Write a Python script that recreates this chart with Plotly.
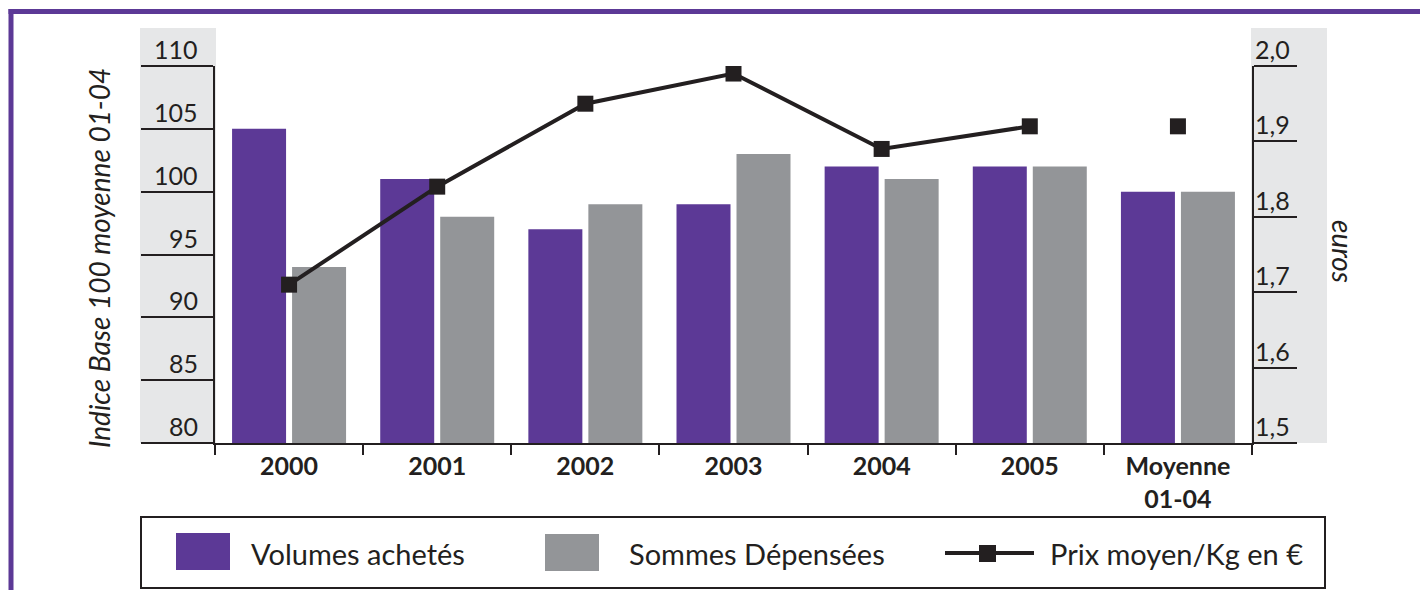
import plotly.graph_objects as go

# ---------------- data ----------------
categories = ["2000", "2001", "2002", "2003", "2004", "2005", "Moyenne<br>01-04"]
volumes = [105, 101, 97, 99, 102, 102, 100]
sommes = [94, 98, 99, 103, 101, 102, 100]
prix_years = [1.71, 1.84, 1.95, 1.99, 1.89, 1.92]
prix_moy = [1.92]
left_ticks = [80, 85, 90, 95, 100, 105, 110]
left_labels = ["80", "85", "90", "95", "100", "105", "110"]
right_ticks = [1.5, 1.6, 1.7, 1.8, 1.9, 2.0]
right_labels = ["1,5", "1,6", "1,7", "1,8", "1,9", "2,0"]

legend_names = ["Volumes achetés", "Sommes Dépensées", "Prix moyen/Kg en €"]
y_title = "Indice Base 100 moyenne 01-04"
y2_title = "euros"

# ---------------- style ----------------
PURPLE = "#5c3996"
GREY = "#939598"
BAND = "#e6e7e8"
INK = "#231f20"
FONT = "Lato"

OFF = 8                      # page body margin
W, H = 1428 - 2 * OFF, 598 - 2 * OFF
L, R, T, B = 215, 1252, 66, 443  # plot area in page px


def px(x):
    return (x - L) / (R - L)


def py(y):
    return (B - y) / (B - T)


fig = go.Figure()
fig.add_trace(go.Bar(x=categories, y=volumes, name=legend_names[0],
                     marker=dict(color=PURPLE, line=dict(width=0)), showlegend=False))
fig.add_trace(go.Bar(x=categories, y=sommes, name=legend_names[1],
                     marker=dict(color=GREY, line=dict(width=0)), showlegend=False))
fig.add_trace(go.Scatter(x=categories[:len(prix_years)], y=prix_years, yaxis="y2",
                         mode="lines+markers", name=legend_names[2],
                         line=dict(color=INK, width=4),
                         marker=dict(symbol="square", size=16, color=INK),
                         showlegend=False))
fig.add_trace(go.Scatter(x=categories[len(prix_years):], y=prix_moy, yaxis="y2",
                         mode="markers", name=legend_names[2],
                         marker=dict(symbol="square", size=16, color=INK),
                         showlegend=False))

shapes = []
# outer purple frame (top and left edges; the rest runs off the page)
shapes.append(dict(type="line", xref="paper", yref="paper",
                   x0=px(8.5), x1=px(W + OFF), y0=py(11.5), y1=py(11.5),
                   line=dict(color=PURPLE, width=5), layer="below"))
shapes.append(dict(type="line", xref="paper", yref="paper",
                   x0=px(11), x1=px(11), y0=py(9), y1=py(H + OFF),
                   line=dict(color=PURPLE, width=5), layer="below"))
# grey bands behind axis tick areas
shapes.append(dict(type="rect", xref="paper", yref="paper",
                   x0=px(140), x1=px(216), y0=py(443), y1=py(28),
                   line=dict(width=0), fillcolor=BAND, layer="below"))
shapes.append(dict(type="rect", xref="paper", yref="paper",
                   x0=px(1251), x1=px(1327), y0=py(443), y1=py(28),
                   line=dict(width=0), fillcolor=BAND, layer="below"))
# legend box
shapes.append(dict(type="rect", xref="paper", yref="paper",
                   x0=px(141), x1=px(1325), y0=py(588), y1=py(517),
                   line=dict(color=INK, width=2), fillcolor="white"))
shapes.append(dict(type="rect", xref="paper", yref="paper",
                   x0=px(176), x1=px(230), y0=py(570), y1=py(533),
                   line=dict(width=0), fillcolor=PURPLE))
shapes.append(dict(type="rect", xref="paper", yref="paper",
                   x0=px(545), x1=px(599), y0=py(571), y1=py(534),
                   line=dict(width=0), fillcolor=GREY))
shapes.append(dict(type="line", xref="paper", yref="paper",
                   x0=px(945), x1=px(1034), y0=py(553), y1=py(553),
                   line=dict(color=INK, width=4)))
shapes.append(dict(type="rect", xref="paper", yref="paper",
                   x0=px(979), x1=px(996), y0=py(562), y1=py(545),
                   line=dict(width=0), fillcolor=INK))

annotations = []
for v, t in zip(left_ticks, left_labels):
    annotations.append(dict(xref="paper", yref="y", x=px(200), y=v, text=t,
                            showarrow=False, xanchor="right", yanchor="bottom", yshift=0,
                            font=dict(family=FONT, size=25, color=INK)))
for v, t in zip(right_ticks, right_labels):
    annotations.append(dict(xref="paper", yref="y2", x=px(1253), y=v, text=t,
                            showarrow=False, xanchor="left", yanchor="bottom", yshift=0,
                            font=dict(family=FONT, size=25, color=INK)))
annotations.append(dict(xref="paper", yref="paper", x=px(99), y=py(258),
                        text="<i>" + y_title + "</i>", textangle=-90, showarrow=False,
                        xanchor="center", yanchor="middle",
                        font=dict(family=FONT, size=28, color=INK)))
annotations.append(dict(xref="paper", yref="paper", x=px(1343), y=py(251),
                        text="<i>" + y2_title + "</i>", textangle=90, showarrow=False,
                        xanchor="center", yanchor="middle",
                        font=dict(family=FONT, size=28, color=INK)))
for xpos, name in zip([249, 627, 1048], legend_names):
    annotations.append(dict(xref="paper", yref="paper", x=px(xpos), y=py(553),
                            text=name, showarrow=False, xanchor="left", yanchor="middle",
                            font=dict(family=FONT, size=29, color=INK)))

fig.update_layout(
    width=W, height=H, autosize=False,
    margin=dict(l=L - OFF, r=W - (R - OFF), t=T - OFF, b=H - (B - OFF), pad=0),
    paper_bgcolor="white", plot_bgcolor="white",
    barmode="group", bargap=0.19, bargroupgap=0.1,
    showlegend=False,
    font=dict(family=FONT, color=INK),
    xaxis=dict(type="category", range=[-0.5, 6.5], showgrid=False, zeroline=False,
               showline=True, linecolor=INK, linewidth=2,
               ticks="outside", tickson="boundaries", ticklen=10, tickwidth=2, tickcolor=INK,
               tickfont=dict(family=FONT, size=25, color=INK, weight="bold")),
    yaxis=dict(range=[80, 110], tickvals=left_ticks, showticklabels=False,
               showgrid=False, zeroline=False, showline=True, linecolor=INK, linewidth=2,
               ticks="outside", ticklen=72, tickwidth=2, tickcolor=INK),
    yaxis2=dict(range=[1.5, 2.0], tickvals=right_ticks, showticklabels=False,
                overlaying="y", side="right", showgrid=False, zeroline=False,
                showline=True, linecolor=INK, linewidth=2,
                ticks="outside", ticklen=43, tickwidth=2, tickcolor=INK),
    shapes=shapes,
    annotations=annotations,
)

fig.write_html("out.html", config={"displayModeBar": False})
